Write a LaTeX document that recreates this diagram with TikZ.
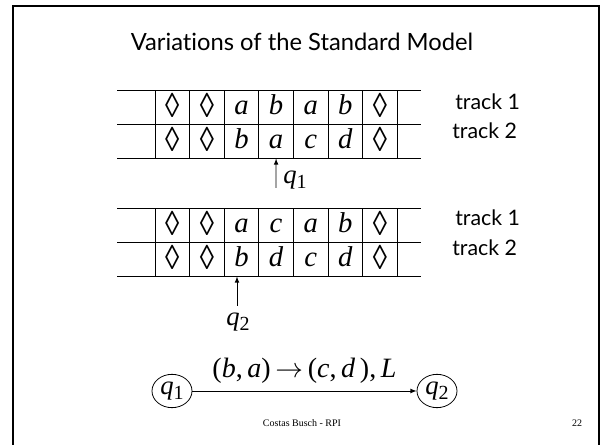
\documentclass[tikz,border=0pt]{standalone}
\usepackage{fontspec}
\setmainfont{Liberation Serif}
\newfontfamily\gillfont[Ligatures=NoCommon]{Lato}
\usetikzlibrary{shapes.geometric}
\newcommand{\dia}{{\upshape\raisebox{-2.2pt}{\scalebox{1}[1.2]{◊}}}}
\newcommand{\sub}[1]{\raisebox{-0.4ex}{\upshape\fontsize{15}{17}\selectfont #1}}

\begin{document}
\begin{tikzpicture}[x=0.75pt,y=-0.75pt,>=latex, every node/.style={inner sep=0pt},
  cell/.style={draw,line width=0.6pt,minimum width=25.95pt,minimum height=25.5pt,outer sep=0pt,
    text height=14pt,text depth=3pt,font=\fontsize{21.5}{23}\selectfont\itshape},
  tracklbl/.style={anchor=west,font=\gillfont\fontsize{16}{18}\selectfont},
  state/.style={draw,ellipse,line width=0.6pt,minimum width=30pt,minimum height=25pt,font=\fontsize{20}{22}\selectfont\itshape}]
\useasboundingbox (0,0) rectangle (604,445);
\draw[line width=2.2pt] (13,445) -- (13,6) -- (599,6) -- (599,445);
\node[font=\gillfont\fontsize{17.8}{21}\selectfont] (title) at (302,42) {Variations of the Standard Model};
% first tape
\foreach \y in {90.5,124.5,158.5} \draw[line width=0.6pt] (117,\y) -- (421,\y);
\foreach \s [count=\i] in {\dia,\dia,a,b,a,b,\dia}
  \node[cell] (A1\i) at ({137.7+34.6*\i},107.5) {\s};
\foreach \s [count=\i] in {\dia,\dia,b,a,c,d,\dia}
  \node[cell] (A2\i) at ({137.7+34.6*\i},141.5) {\s};
\node[tracklbl] (ta1) at (455,102) {track 1};
\node[tracklbl] (ta2) at (452,131) {track 2};
\coordinate (qa) at (276,188);
\draw[->,line width=0.6pt] (qa) -- (A24.south);
\node[anchor=west,font=\fontsize{20}{22}\selectfont] (qalbl) at (283,180) {\textit{q}\sub{1}};
% second tape
\foreach \y in {208,242,276.5} \draw[line width=0.6pt] (117,\y) -- (421,\y);
\foreach \s [count=\i] in {\dia,\dia,a,c,a,b,\dia}
  \node[cell] (B1\i) at ({137.7+34.6*\i},225) {\s};
\foreach \s [count=\i] in {\dia,\dia,b,d,c,d,\dia}
  \node[cell] (B2\i) at ({137.7+34.6*\i},259.5) {\s};
\node[tracklbl] (tb1) at (455,218) {track 1};
\node[tracklbl] (tb2) at (452,248) {track 2};
\coordinate (qb) at (237,306);
\draw[->,line width=0.6pt] (qb) -- (qb |- B23.south);
\node[font=\fontsize{20}{22}\selectfont] (qblbl) at (238,322) {\textit{q}\sub{2}};
% transition
\node[state] (s1) at (172,391) {q\sub{1}};
\node[state] (s2) at (437,391) {q\sub{2}};
\draw[->,line width=0.6pt] (s1) -- node[above=5pt,font=\fontsize{21}{23}\selectfont]
  {(\textit{b},\,\textit{a})\,$\rightarrow$\,(\textit{c},\,\textit{d}\,),\,\textit{L}} (s2);
\node[font=\fontsize{7.5}{9}\selectfont] (foot) at (302,423) {Costas Busch - RPI};
\node[font=\fontsize{7.5}{9}\selectfont] (pnum) at (577,423) {22};
\end{tikzpicture}
\end{document}
